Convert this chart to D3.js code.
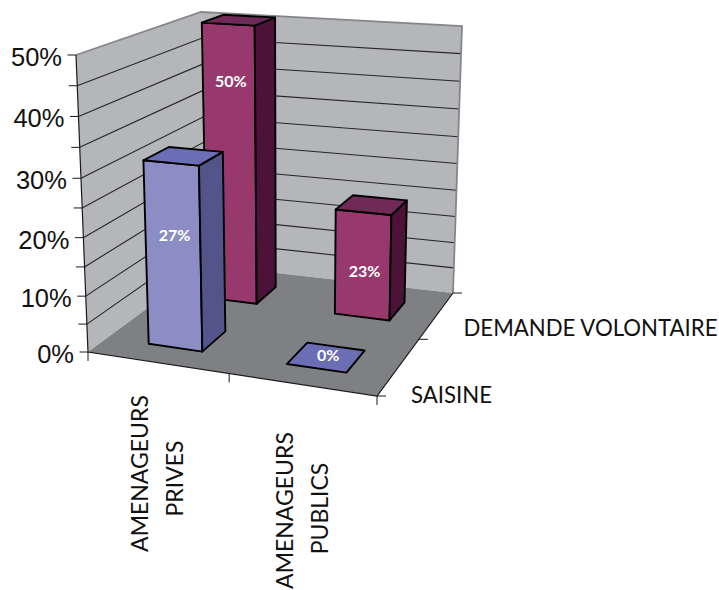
<!DOCTYPE html>
<html>
<head>
<meta charset="utf-8">
<script src="https://cdn.jsdelivr.net/npm/d3@7"></script>
<style>
  html, body { margin: 0; padding: 0; background: #fff; }
  svg { display: block; }
</style>
</head>
<body>
<div id="chart"></div>
<script>
const categories = ["AMENAGEURS PRIVES", "AMENAGEURS PUBLICS"];
const categoryLines = [["AMENAGEURS", "PRIVES"], ["AMENAGEURS", "PUBLICS"]];
const seriesNames = ["SAISINE", "DEMANDE VOLONTAIRE"];

// ce qui est écrit sur les barres
const saisineLabels = [27, 0];
const volontaireLabels = [50, 23];
// hauteur des barres lue sur l'axe (elle ne suit pas toujours l'étiquette)
const saisineHeights = [32, 0];
const volontaireHeights = [51, 19.5];

const yTicks = [0, 5, 10, 15, 20, 25, 30, 35, 40, 45, 50];
const yLabels = [0, 10, 20, 30, 40, 50];

const width = 719;
const height = 590;

// coins de la boite 3D: avant-gauche, avant-droit, fond-droit, fond-gauche
const floorQuad = [[88, 352], [377, 396], [453, 293], [206, 265]];
const topQuad = [[76, 55], [379, 76], [462, 26], [201, 12]];

// homographie carré unité -> quadrilatère
function quadMap(q) {
    const [p0, p1, p2, p3] = q;
    const dx1 = p1[0] - p2[0], dx2 = p3[0] - p2[0], sx = p0[0] - p1[0] + p2[0] - p3[0];
    const dy1 = p1[1] - p2[1], dy2 = p3[1] - p2[1], sy = p0[1] - p1[1] + p2[1] - p3[1];
    const det = dx1 * dy2 - dx2 * dy1;
    const g = (sx * dy2 - dx2 * sy) / det;
    const h = (dx1 * sy - sx * dy1) / det;
    const a = p1[0] - p0[0] + g * p1[0], b = p3[0] - p0[0] + h * p3[0];
    const d = p1[1] - p0[1] + g * p1[1], e = p3[1] - p0[1] + h * p3[1];
    return (u, v) => {
        const w = g * u + h * v + 1;
        return [(a * u + b * v + p0[0]) / w, (d * u + e * v + p0[1]) / w];
    };
}

const floorMap = quadMap(floorQuad);
const topMap = quadMap(topQuad);

const project = (u, v, w) => {
    const f = floorMap(u, v), t = topMap(u, v);
    return [f[0] + (t[0] - f[0]) * w, f[1] + (t[1] - f[1]) * w];
};

const xScale = d3.scaleBand().domain(categories).range([0.01, 1.01]).paddingInner(0.6).paddingOuter(0.3);
const zScale = d3.scaleBand().domain(seriesNames).range([-0.01, 0.99]).paddingInner(0.6).paddingOuter(0.3);
// l'axe n'est pas tout à fait régulier à cause de la perspective
const yScale = d3.scaleLinear().domain([0, 10, 20, 30, 40, 50]).range([0, 0.188, 0.385, 0.585, 0.793, 1]);

const svg = d3.select("#chart").append("svg")
    .attr("width", width)
    .attr("height", height)
    .attr("viewBox", `0 0 ${width} ${height}`);

const line = d3.line();
const closed = pts => line(pts) + "Z";

// murs
svg.append("path")
    .attr("d", closed([project(0, 0, 0), project(0, 0, 1), project(0, 1, 1), project(0, 1, 0)]))
    .attr("fill", "#b5b6ba");
svg.append("path")
    .attr("d", closed([project(0, 1, 0), project(0, 1, 1), project(1, 1, 1), project(1, 1, 0)]))
    .attr("fill", "#b5b6ba");

// grille
yTicks.filter(d => d > 0 && d < 50).forEach(d => {
    const w = yScale(d);
    svg.append("path")
        .attr("d", line([project(0, 0, w), project(0, 1, w), project(1, 1, w)]))
        .attr("fill", "none")
        .attr("stroke", "#26262a")
        .attr("stroke-width", 1.1);
});

// bords gris du haut et de droite
svg.append("path")
    .attr("d", line([project(0, 0, 1), project(0, 1, 1), project(1, 1, 1), project(1, 1, 0)]))
    .attr("fill", "none")
    .attr("stroke", "#85868a")
    .attr("stroke-width", 1.8);

// sol
svg.append("path")
    .attr("d", closed([project(0, 0, 0), project(1, 0, 0), project(1, 1, 0), project(0, 1, 0)]))
    .attr("fill", "#7f8084");

// axes
const axisColor = "#1a1a1a";
svg.append("path")
    .attr("d", line([project(0, 0, 1), project(0, 0, 0), project(1, 0, 0), project(1, 1, 0)]))
    .attr("fill", "none")
    .attr("stroke", axisColor)
    .attr("stroke-width", 1.2);

yTicks.forEach(d => {
    const p = project(0, 0, yScale(d));
    svg.append("line")
        .attr("x1", p[0] - 8.5).attr("x2", p[0])
        .attr("y1", p[1]).attr("y2", p[1])
        .attr("stroke", axisColor).attr("stroke-width", 1);
});

[0, 0.515, 1].forEach(u => {
    const p = project(u, 0, 0);
    svg.append("line")
        .attr("x1", p[0]).attr("x2", p[0])
        .attr("y1", p[1]).attr("y2", p[1] + 9)
        .attr("stroke", axisColor).attr("stroke-width", 1);
});
[0, 0.5, 1].forEach(v => {
    const p = project(1, v, 0);
    svg.append("line")
        .attr("x1", p[0]).attr("x2", p[0] + 9)
        .attr("y1", p[1]).attr("y2", p[1])
        .attr("stroke", axisColor).attr("stroke-width", 1);
});

yLabels.forEach(d => {
    const p = project(0, 0, yScale(d));
    svg.append("text")
        .attr("x", p[0] - 14)
        .attr("y", p[1] + 2)
        .attr("dy", "0.35em")
        .attr("text-anchor", "end")
        .attr("font-family", "'Liberation Sans', Arial, sans-serif")
        .attr("font-size", 25.5)
        .attr("fill", "#111")
        .text(`${d}%`);
});

// étiquettes de catégories, tournées
const labelX = [[148, 183], [293, 328]];
const labelY = [[473.5, 478.5], [510.5, 508.5]];
categoryLines.forEach((lines, i) => {
    lines.forEach((t, j) => {
        svg.append("text")
            .attr("transform", `translate(${labelX[i][j]},${labelY[i][j]}) rotate(-90)`)
            .attr("text-anchor", "middle")
            .attr("font-family", "Lato, sans-serif")
            .attr("font-size", 23)
            .attr("fill", "#111")
            .text(t);
    });
});

// étiquettes de séries
[[411, 403], [463.5, 336]].forEach((pos, i) => {
    svg.append("text")
        .attr("x", pos[0])
        .attr("y", pos[1])
        .attr("font-family", "Lato, sans-serif")
        .attr("font-size", 22.2)
        .attr("fill", "#111")
        .text(seriesNames[i]);
});

// barres, du fond vers l'avant
const palette = {
    "SAISINE": { front: "#8b8dc4", side: "#53558a", top: "#6b6eb4", labelDrop: 0.246 },
    "DEMANDE VOLONTAIRE": { front: "#97396d", side: "#4c1237", top: "#6f2a57", labelDrop: 0.21 }
};

const bars = [];
categories.forEach((c, i) => {
    bars.push({ cat: c, series: seriesNames[1], value: volontaireHeights[i], label: volontaireLabels[i] });
});
categories.forEach((c, i) => {
    bars.push({ cat: c, series: seriesNames[0], value: saisineHeights[i], label: saisineLabels[i] });
});

const g = svg.selectAll(".bar").data(bars).enter().append("g").attr("class", "bar");

g.each(function (d) {
    const el = d3.select(this);
    const u0 = xScale(d.cat), u1 = u0 + xScale.bandwidth();
    const v0 = zScale(d.series), v1 = v0 + zScale.bandwidth();
    const w = yScale(d.value);
    const col = palette[d.series];
    const faces = [];
    if (d.value > 0) {
        faces.push({ fill: col.front, pts: [project(u0, v0, 0), project(u1, v0, 0), project(u1, v0, w), project(u0, v0, w)] });
        faces.push({ fill: col.side, pts: [project(u1, v0, 0), project(u1, v1, 0), project(u1, v1, w), project(u1, v0, w)] });
    }
    faces.push({ fill: col.top, pts: [project(u0, v0, w), project(u1, v0, w), project(u1, v1, w), project(u0, v1, w)] });
    faces.forEach(f => {
        el.append("path")
            .attr("d", closed(f.pts))
            .attr("fill", f.fill)
            .attr("stroke", "#000")
            .attr("stroke-width", 1.9)
            .attr("stroke-linejoin", "round");
    });
    const labelPos = d.value > 0
        ? project((u0 + u1) / 2, v0, w - col.labelDrop)
        : project((u0 + u1) / 2, (v0 + v1) / 2, w);
    el.append("text")
        .attr("x", labelPos[0] + 2)
        .attr("y", labelPos[1] - (d.value > 0 ? 0 : 2))
        .attr("dy", "0.35em")
        .attr("text-anchor", "middle")
        .attr("font-family", "Lato, sans-serif")
        .attr("font-weight", 700)
        .attr("font-size", 16)
        .attr("fill", "#fff")
        .text(`${d.label}%`);
});
</script>
</body>
</html>
